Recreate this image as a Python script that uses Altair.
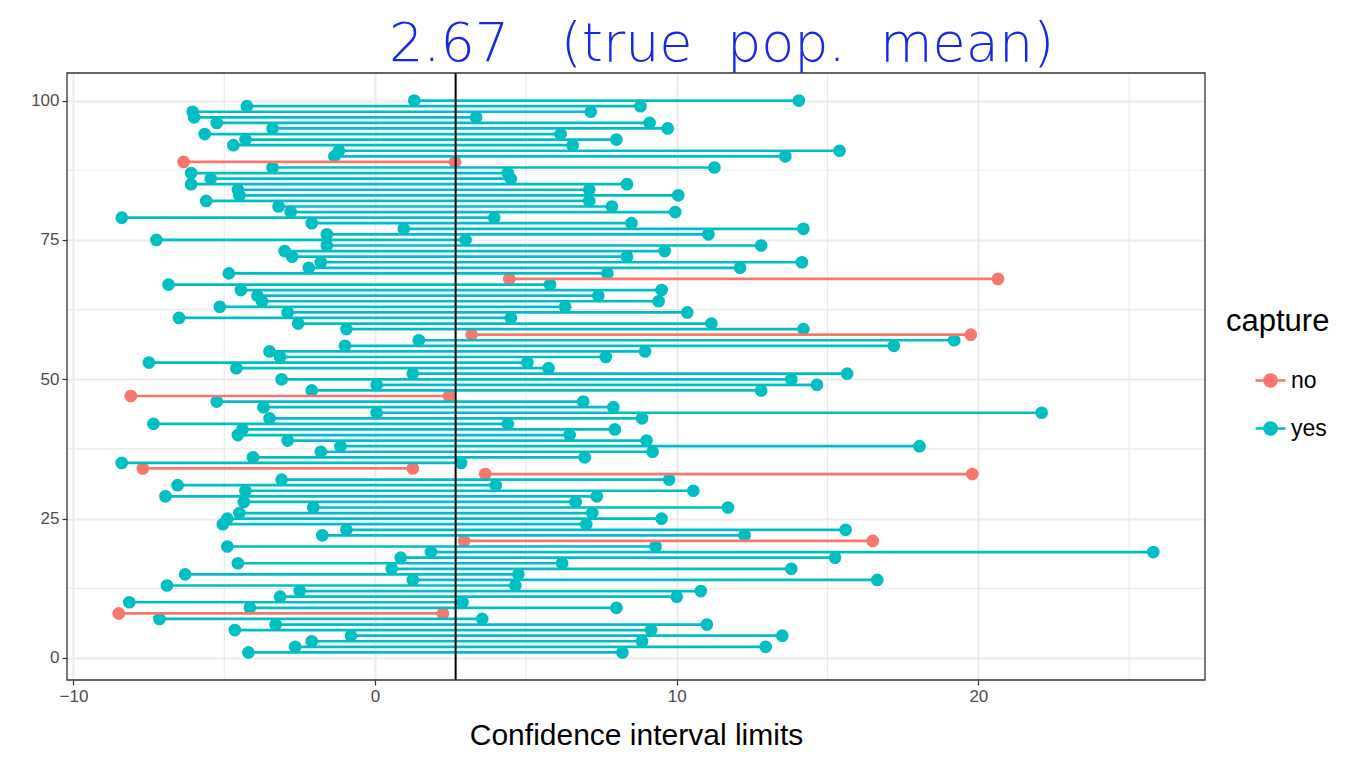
import altair as alt
import pandas as pd

# sample index (1..100)
sample = list(range(1, 101))
lower = [-4.2, -2.65, -2.1, -0.8, -4.65, -3.3, -7.15, -8.5, -4.15, -8.15,
         -3.15, -2.5, -6.9, 1.25, -6.3, 0.55, -4.55, 0.85, 1.85, -4.9,
         2.95, -1.75, -0.95, -5.05, -4.9, -4.5, -2.05, -4.35, -6.95, -4.3,
         -6.55, -3.1, 3.65, -7.7, -8.4, -4.05, -1.8, -1.15, -2.9, -4.55,
         -4.4, -7.35, -3.5, 0.05, -3.7, -5.25, -8.1, -2.1, 0.05, -3.1,
         1.25, -4.6, -7.5, -3.15, -3.5, -1.0, 1.45, 3.2, -0.95, -2.55,
         -6.5, -2.9, -5.15, -3.75, -3.9, -4.45, -6.85, 4.45, -4.85, -2.2,
         -1.8, -2.75, -3.0, -1.6, -7.25, -1.6, 0.95, -2.1, -8.4, -2.8,
         -3.2, -5.6, -4.5, -4.55, -6.1, -5.45, -6.1, -3.4, -6.35, -1.35,
         -1.2, -4.7, -4.3, -5.65, -3.4, -5.25, -6.0, -6.05, -4.25, 1.3]
upper = [8.2, 12.95, 8.85, 13.5, 9.15, 11.0, 3.55, 2.25, 8.0, 2.9,
         10.0, 10.8, 4.65, 16.65, 4.75, 13.8, 6.2, 15.25, 25.8, 9.3,
         16.5, 12.25, 15.6, 7.0, 9.5, 7.2, 11.7, 6.65, 7.35, 10.55,
         4.0, 9.75, 19.8, 1.25, 2.85, 6.95, 9.2, 18.05, 9.0, 6.45,
         7.95, 4.4, 8.85, 22.1, 7.9, 6.9, 2.45, 12.8, 14.65, 13.8,
         15.65, 5.75, 5.05, 7.65, 8.95, 17.2, 19.2, 19.75, 14.2, 11.15,
         4.5, 10.35, 6.3, 9.4, 7.4, 9.5, 5.8, 20.65, 7.7, 12.1,
         14.15, 8.35, 9.6, 12.8, 3.0, 11.05, 14.2, 8.5, 3.95, 9.95,
         7.85, 7.1, 10.05, 7.1, 8.35, 4.5, 4.4, 11.25, 2.65, 13.6,
         15.4, 6.55, 8.0, 6.15, 9.7, 9.1, 3.35, 7.15, 8.8, 14.05]
true_mean = 2.67
capture = ["yes" if lo <= true_mean <= hi else "no" for lo, hi in zip(lower, upper)]

x_ticks = [-10, 0, 10, 20]
y_ticks = [0, 25, 50, 75, 100]
x_minor = [-5, 5, 15, 25]
y_minor = [12.5, 37.5, 62.5, 87.5]
categories = ["no", "yes"]
palette = ["#F8766D", "#00BFC4"]
annotation = "2.67\u00a0\u00a0 (true\u00a0 pop.\u00a0 mean)"

df = pd.DataFrame({"sample": sample, "lower": lower, "upper": upper, "capture": capture})

FONT = "Liberation Sans"
GRID = "#EBEBEB"
xs = alt.Scale(domain=[-10.215, 27.515], nice=False, zero=False)
ys = alt.Scale(domain=[-3.95, 104.95], nice=False, zero=False)
cs = alt.Scale(domain=categories, range=palette)

ax = alt.Axis(values=x_ticks, title="Confidence interval limits", grid=True, gridColor=GRID, gridWidth=2,
              domain=False, tickColor="#333333", tickSize=5, tickWidth=1.2,
              labelFont=FONT, labelFontSize=17, labelColor="#4D4D4D", labelPadding=3,
              titleFont=FONT, titleFontSize=30, titleFontWeight="normal", titleColor="black",
              titleBaseline="alphabetic", titleY=64)
ay = alt.Axis(values=y_ticks, title=None, grid=True, gridColor=GRID, gridWidth=2,
              domain=False, tickColor="#333333", tickSize=5, tickWidth=1.2,
              labelFont=FONT, labelFontSize=17, labelColor="#4D4D4D", labelPadding=3)

# legend key: horizontal line with a dot, shifted right inside the key box
key_path = ("M0.87,0L2.87,0M1.47,0A0.4,0.4,0,1,1,2.27,0A0.4,0.4,0,1,1,1.47,0Z")
leg = alt.Legend(title="capture", orient="none", legendX=1159, legendY=234,
                 titleFont=FONT, titleFontSize=31, titleFontWeight="normal", titleColor="black",
                 titlePadding=26, labelFont=FONT, labelFontSize=23, labelColor="black",
                 symbolType=key_path, symbolSize=900, symbolStrokeWidth=2.7,
                 rowPadding=19, labelOffset=32)

gx = alt.Chart(pd.DataFrame({"g": x_minor})).mark_rule(color=GRID, strokeWidth=1.2).encode(
    x=alt.X("g:Q", scale=xs, axis=ax))
gy = alt.Chart(pd.DataFrame({"g": y_minor})).mark_rule(color=GRID, strokeWidth=1.2).encode(
    y=alt.Y("g:Q", scale=ys, axis=ay))

points = alt.Chart(df).transform_fold(["lower", "upper"], as_=["end", "value"]).mark_point(
    filled=True, size=100, strokeWidth=2.7, opacity=1
).encode(
    x=alt.X("value:Q", scale=xs, axis=ax),
    y=alt.Y("sample:Q", scale=ys, axis=ay),
    fill=alt.Fill("capture:N", scale=cs, legend=leg),
    stroke=alt.Stroke("capture:N", scale=cs, legend=leg),
)

segs = alt.Chart(df).mark_rule(strokeWidth=2.7).encode(
    x=alt.X("lower:Q", scale=xs, axis=ax),
    x2="upper:Q",
    y=alt.Y("sample:Q", scale=ys, axis=ay),
    color=alt.Color("capture:N", scale=cs, legend=None),
)

vline = alt.Chart(pd.DataFrame({"m": [true_mean]})).mark_rule(color="black", strokeWidth=2).encode(
    x=alt.X("m:Q", scale=xs, axis=ax))

note = alt.Chart(pd.DataFrame({"x": [0.46], "t": [annotation]})).mark_text(
    align="left", baseline="alphabetic", fontSize=54, font='"DejaVu Sans ExtraLight", "DejaVu Sans"',
    fontWeight=200, color="#1428E6"
).encode(x=alt.X("x:Q", scale=xs, axis=ax), y=alt.value(-12), text="t:N")

# panel border (theme_bw style)
frame = alt.Chart(pd.DataFrame({"k": [0]})).mark_rect(
    fillOpacity=0, stroke="#333333", strokeWidth=1.3
).encode(x=alt.value(0), x2=alt.value("width"), y=alt.value(0), y2=alt.value("height"))

chart = alt.layer(gx, gy, points, segs, vline, note, frame).properties(
    width=1138, height=607,
    autosize=alt.AutoSizeParams(type="none"),
    padding={"left": 59, "top": 65, "right": 151, "bottom": 70},
).configure_view(stroke=None)

chart.save("out.html", embed_options={"renderer": "svg", "actions": False})
